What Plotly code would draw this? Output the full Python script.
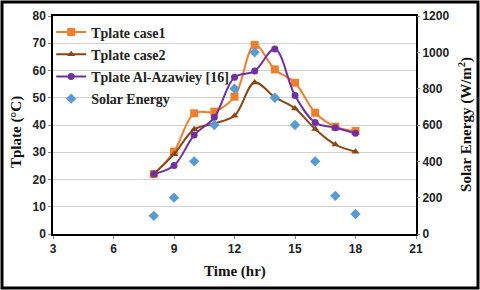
import plotly.graph_objects as go

hours = [8, 9, 10, 11, 12, 13, 14, 15, 16, 17, 18]
case1 = [22, 30.2, 44.3, 44.9, 50.4, 69.4, 60.4, 55.5, 44.5, 39.4, 37.8]
case2 = [22, 29.3, 38.4, 40.6, 43.4, 55.6, 50.2, 46.1, 38.5, 32.8, 30.2]
azawiey = [22, 25.1, 36.3, 42.8, 57.5, 59.8, 67.9, 50.8, 40.9, 39.0, 37.0]
solar = [100, 200, 400, 600, 800, 1000, 750, 600, 400, 210, 110]

serif = "Liberation Serif"
fig = go.Figure()
fig.add_trace(go.Scatter(x=hours, y=case1, name="Tplate case1", mode="lines+markers", legendgroup="a",
                         line=dict(color="#F07F2D", width=2, shape="spline", smoothing=1.0),
                         marker=dict(symbol="square", size=8, color="#F07F2D")))
fig.add_trace(go.Scatter(x=hours, y=case2, name="Tplate case2", mode="lines+markers", legendgroup="b",
                         line=dict(color="#8B4513", width=2, shape="spline", smoothing=1.0),
                         marker=dict(symbol="triangle-up", size=7, color="#8B4513")))
fig.add_trace(go.Scatter(x=hours, y=azawiey, name="Tplate Al-Azawiey [16]", mode="lines+markers", legendgroup="c",
                         line=dict(color="#7030A0", width=2, shape="spline", smoothing=1.0),
                         marker=dict(symbol="circle", size=7, color="#7030A0")))
fig.add_trace(go.Scatter(x=hours, y=solar, name="Solar Energy", mode="markers", yaxis="y2", legendgroup="d",
                         marker=dict(symbol="diamond", size=8, color="#5B9BD5")))

tickfont = dict(family="Liberation Sans", size=12, color="#222", weight="bold")
titlefont = dict(family=serif, size=15, color="#111", weight="bold")
fig.update_layout(
    width=480, height=290,
    margin=dict(l=53, r=64, t=16, b=56, autoexpand=False),
    paper_bgcolor="white", plot_bgcolor="white",
    showlegend=True,
    legend=dict(x=-0.005, y=0.998, xanchor="left", yanchor="top", bgcolor="rgba(0,0,0,0)",
                font=dict(family=serif, size=14, color="#222", weight="bold"),
                tracegroupgap=1, traceorder="grouped"),
    xaxis=dict(range=[3, 21], tickvals=[3, 6, 9, 12, 15, 18, 21], showgrid=False, automargin=False,
               showline=True, linecolor="black", linewidth=1.5, mirror=True,
               ticks="outside", ticklen=3, tickcolor="#888", tickfont=tickfont, zeroline=False),
    yaxis=dict(range=[0, 80], dtick=10, showgrid=True, gridcolor="#D0D0D0", gridwidth=1, automargin=False,
               showline=True, linecolor="black", linewidth=1.5, mirror=True,
               ticks="outside", ticklen=3, tickcolor="#888", tickfont=tickfont, zeroline=False),
    yaxis2=dict(range=[0, 1200], dtick=200, overlaying="y", side="right", showgrid=False, automargin=False,
                ticks="outside", ticklen=3, tickcolor="#888", tickfont=tickfont, zeroline=False),
    annotations=[
        dict(text="Time (hr)", x=0.5, y=-0.174, xref="paper", yref="paper", showarrow=False,
             xanchor="center", yanchor="middle", font=titlefont),
        dict(text="Tplate (°C)", x=-0.099, y=0.468, xref="paper", yref="paper", showarrow=False,
             xanchor="center", yanchor="middle", textangle=-90, font=titlefont),
        dict(text="Solar Energy (W/m<sup>2</sup>)", x=1.1377, y=0.505, xref="paper", yref="paper", showarrow=False,
             xanchor="center", yanchor="middle", textangle=-90, font=titlefont),
    ],
    shapes=[dict(type="rect", xref="paper", yref="paper", x0=-0.1405, x1=1.1708, y0=-0.2477, y1=1.064,
                 line=dict(color="black", width=3))],
)
fig.write_html("out.html", config={"displayModeBar": False},
               post_script="document.body.style.margin='0';document.body.style.overflow='hidden';")
